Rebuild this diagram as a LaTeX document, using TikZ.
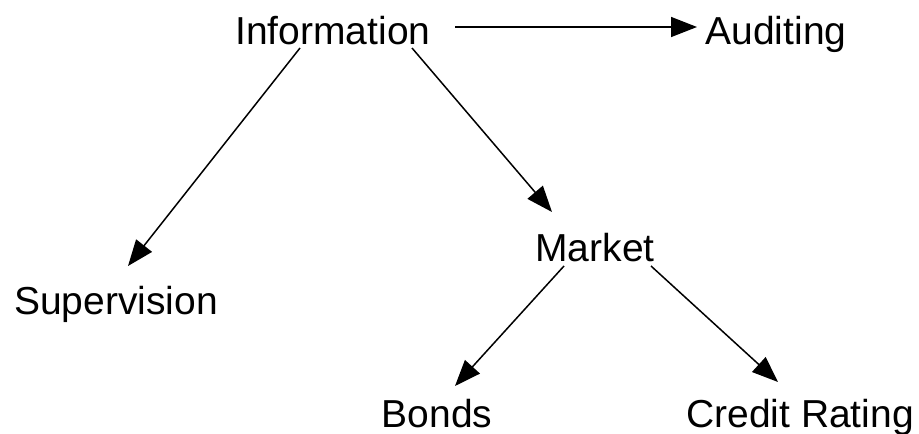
\documentclass[tikz,border=0pt]{standalone}
\usepackage{fontspec}
\setmainfont{Liberation Sans}
\usetikzlibrary{arrows.meta,calc}
\tikzset{
  lbl/.style={anchor=base, inner sep=0pt, font=\fontsize{39}{45}\selectfont},
  conn/.style={line width=1.5pt, -{Triangle[length=26pt,width=20pt]}}
}
\begin{document}
\begin{tikzpicture}[x=1pt,y=-1pt]
\useasboundingbox[fill=white] (0,0) rectangle (919,434);
\node[lbl] (info) at (333,44) {Information};
\node[lbl] (aud) at (776,44) {Auditing};
\node[lbl] (sup) at (116,314) {Supervision};
\node[lbl] (mkt) at (595,261) {Market};
\node[lbl] (bonds) at (437,427) {Bonds};
\node[lbl] (credit) at (800,427) {Credit Rating};
\draw[conn] ($(info.base)+(122,-17)$) -- ($(aud.base)+(-79,-17)$);
\draw[conn] ($(info.base)+(-33,4)$) -- ($(sup.base)+(12,-48)$);
\draw[conn] ($(info.base)+(79,4)$) -- ($(mkt.base)+(-43,-49)$);
\draw[conn] ($(mkt.base)+(-31,5)$) -- ($(bonds.base)+(18,-41)$);
\draw[conn] ($(mkt.base)+(56,5)$) -- ($(credit.base)+(-22,-45)$);
\end{tikzpicture}
\end{document}
